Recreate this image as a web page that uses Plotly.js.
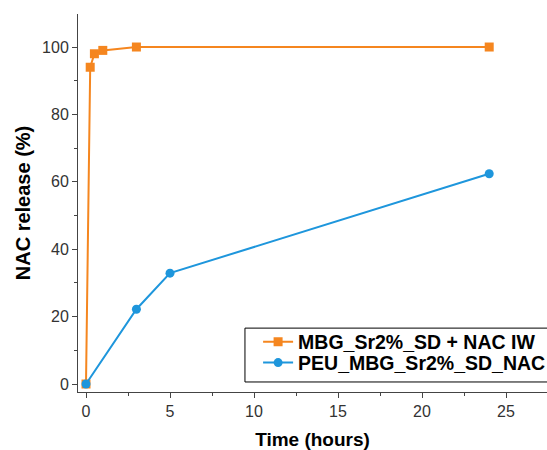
<!DOCTYPE html>
<html><head><meta charset="utf-8">
<script src="https://cdn.plot.ly/plotly-3.0.1.min.js"></script>
<style>html,body{margin:0;padding:0;background:#fff}#c{width:547px;height:450px}</style>
</head><body><div id="c"></div>
<script>
const timeMBG = [0, 0.25, 0.5, 1, 3, 24];
const releaseMBG = [0, 94, 98, 99, 100, 100];
const timePEU = [0, 3, 5, 24];
const releasePEU = [0, 22.2, 32.9, 62.4];
const nameMBG = "MBG_Sr2%_SD + NAC IW";
const namePEU = "PEU_MBG_Sr2%_SD_NAC";
const xTicks = [0, 5, 10, 15, 20, 25];
const yTicks = [0, 20, 40, 60, 80, 100];

const traces = [
  {x: timeMBG, y: releaseMBG, name: nameMBG, type: 'scatter', mode: 'lines+markers', legend: 'legend',
   line: {color: '#F5861F', width: 2}, marker: {symbol: 'square', size: 9, color: '#F5861F'}, cliponaxis: false},
  {x: timePEU, y: releasePEU, name: namePEU, type: 'scatter', mode: 'lines+markers', legend: 'legend2',
   line: {color: '#1E96DC', width: 2}, marker: {symbol: 'circle', size: 9, color: '#1E96DC'}, cliponaxis: false}
];
const ff = 'Liberation Sans, Arial, sans-serif';
const axisFont = {family: ff, size: 16, color: '#333'};
const legFont = {family: ff, size: 19.5, color: '#000', weight: 'bold'};
const legBase = {xanchor: 'left', yanchor: 'middle', borderwidth: 0, bgcolor: 'rgba(0,0,0,0)', font: legFont, itemwidth: 30};
const layout = {
  width: 547, height: 450,
  margin: {l: 78, r: 0, t: 14, b: 58, autoexpand: false},
  paper_bgcolor: '#fff', plot_bgcolor: '#fff',
  showlegend: true,
  legend: Object.assign({x: 0.384, y: 0.132}, legBase),
  legend2: Object.assign({x: 0.384, y: 0.077}, legBase),
  shapes: [{type: 'rect', xref: 'paper', yref: 'paper', x0: 0.356, x1: 1.05, y0: 0.0265, y1: 0.169,
    line: {color: '#000', width: 1}, fillcolor: '#fff', layer: 'below'}],
  xaxis: {range: [-0.476, 27.44], tickvals: xTicks, ticks: 'outside', ticklen: 5, tickcolor: '#444',
    showgrid: false, zeroline: false, showline: true, linecolor: '#444', linewidth: 1,
    tickfont: axisFont,
    minor: {tickvals: [2.5, 7.5, 12.5, 17.5, 22.5], ticks: 'outside', ticklen: 3, tickcolor: '#444'},
    title: {text: 'Time (hours)', font: {family: ff, size: 19, color: '#000', weight: 'bold'}, standoff: 15}},
  yaxis: {range: [-2.37, 109.8], tickvals: yTicks, ticks: 'outside', ticklen: 5, tickcolor: '#444',
    showgrid: false, zeroline: false, showline: true, linecolor: '#444', linewidth: 1,
    tickfont: axisFont,
    minor: {tickvals: [10, 30, 50, 70, 90], ticks: 'outside', ticklen: 3, tickcolor: '#444'},
    title: {text: 'NAC release (%)', font: {family: ff, size: 20, color: '#000', weight: 'bold'}, standoff: 6}}
};
Plotly.newPlot('c', traces, layout, {displayModeBar: false, staticPlot: true});
</script></body></html>
